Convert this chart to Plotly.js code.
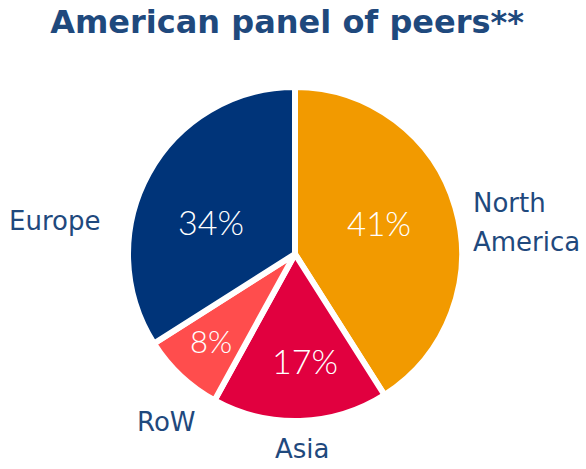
<!DOCTYPE html>
<html>
<head>
<meta charset="utf-8">
<script src="https://cdn.plot.ly/plotly-3.0.1.min.js"></script>
<style>html,body{margin:0;padding:0;background:#fff;}#chart{width:586px;height:469px;}</style>
</head>
<body>
<div id="chart"></div>
<script>
const categories = ["North America", "Asia", "RoW", "Europe"];
const labelLines = [["North", "America"], ["Asia"], ["RoW"], ["Europe"]];
const values = [41, 17, 8, 34];
const colors = ["#F29A00", "#E1003F", "#FF4D4D", "#003479"];
const titleText = "American panel of peers**";

// layout only: pixel positions of outside labels (first line) and inside percentages
const W = 586, H = 469;
const labelPos = [
  {x: 471, y: 203, xanchor: "left"},
  {x: 302, y: 449, xanchor: "center"},
  {x: 166, y: 422, xanchor: "center"},
  {x: 54, y: 221, xanchor: "center"}
];
const lineGap = 39;
const pctPos = [
  {x: 379, y: 223, size: 33},
  {x: 305, y: 360, size: 34},
  {x: 211, y: 341, size: 31},
  {x: 211, y: 222, size: 34}
];

const cx = 295, cy = 254, r = 167;
const total = values.reduce((a, b) => a + b, 0);

const trace = {
  type: "pie",
  labels: categories,
  values: values,
  sort: false,
  direction: "clockwise",
  rotation: 0,
  marker: {colors: colors, line: {color: "#ffffff", width: 6}},
  textinfo: "none",
  hoverinfo: "label+percent",
  showlegend: false,
  domain: {x: [(cx - r)/W, (cx + r)/W], y: [(H - cy - r)/H, (H - cy + r)/H]}
};

const annotations = [];
categories.forEach((c, i) => {
  labelLines[i].forEach((line, k) => {
    annotations.push({
      text: line,
      x: labelPos[i].x / W, y: 1 - (labelPos[i].y + k * lineGap) / H,
      xref: "paper", yref: "paper",
      xanchor: labelPos[i].xanchor, yanchor: "middle",
      showarrow: false,
      font: {family: "'DejaVu Sans', Verdana, sans-serif", size: 26, color: "#1F497D"}
    });
  });
  annotations.push({
    text: Math.round(values[i] / total * 100) + "%",
    x: pctPos[i].x / W, y: 1 - pctPos[i].y / H,
    xref: "paper", yref: "paper",
    xanchor: "center", yanchor: "middle",
    showarrow: false,
    font: {family: "Lato, 'DejaVu Sans', sans-serif", size: pctPos[i].size, color: "#ffffff", weight: 300}
  });
});

const layout = {
  width: W, height: H,
  margin: {l: 0, r: 0, t: 0, b: 0},
  paper_bgcolor: "#ffffff",
  title: {text: "<b>" + titleText + "</b>", x: 0.49, xanchor: "center", y: 1 - 22/H, yanchor: "middle",
    font: {family: "'DejaVu Sans', Verdana, sans-serif", size: 32, color: "#1F497D"}},
  annotations: annotations
};

Plotly.newPlot("chart", [trace], layout, {displayModeBar: false, staticPlot: true});
</script>
</body>
</html>
